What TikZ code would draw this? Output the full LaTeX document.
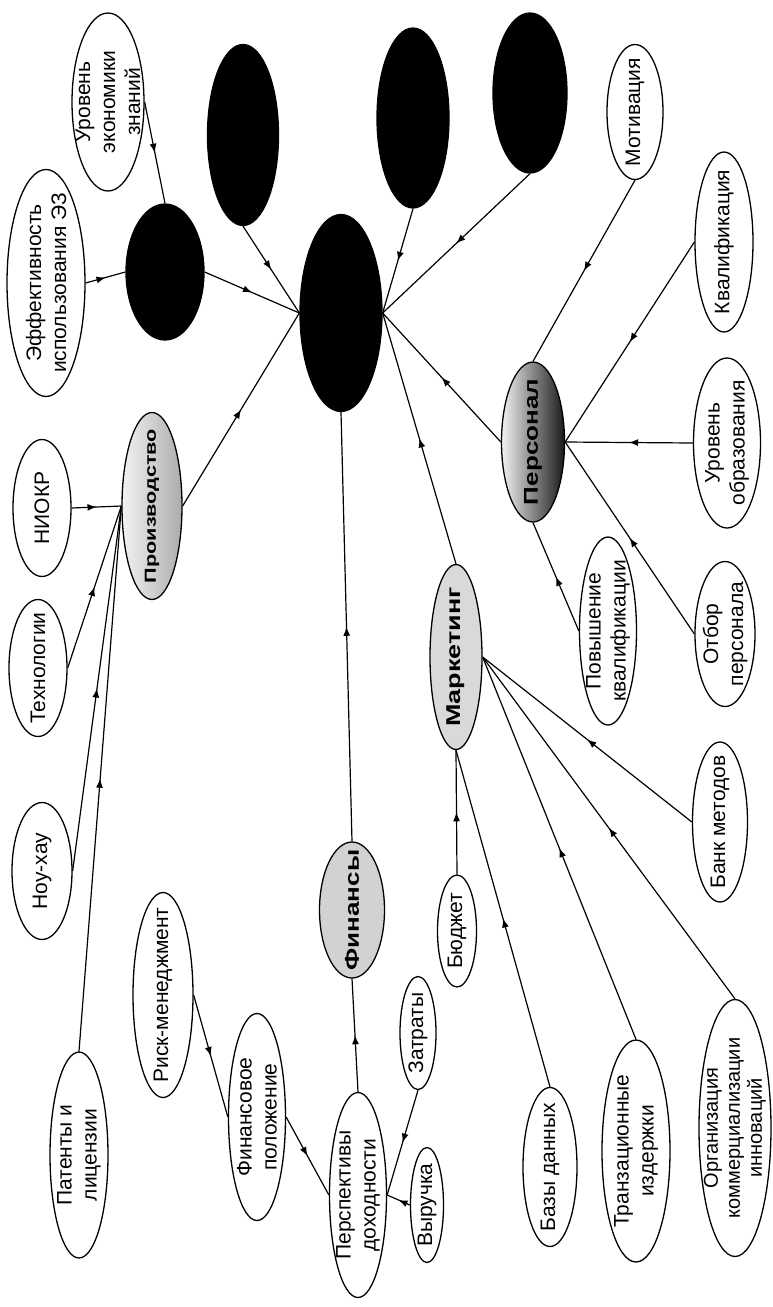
\documentclass[tikz,border=0pt]{standalone}
\usepackage{fontspec}
\setmainfont{Liberation Sans}
\usetikzlibrary{shapes.geometric, arrows.meta, decorations.markings}
\newcommand{\wtext}[2][1.3]{\scalebox{#1}[1]{#2}}

\begin{document}
\begin{tikzpicture}[
    x=1pt, y=-1pt,
    bub/.style 2 args={ellipse, draw, line width=1.3pt, fill=white,
      minimum width=#1pt, minimum height=#2pt, inner sep=0pt},
    txt/.style={rotate=90, align=center, inner sep=0pt,
      font=\fontsize{21}{25}\selectfont},
    head/.style={rotate=90, inner sep=0pt,
      font=\bfseries\fontsize{20}{24}\selectfont},
    blob/.style={fill=black},
    link/.style={line width=1.2pt, postaction={decorate},
      decoration={markings, mark=at position #1 with {\arrow{Latex[length=9pt,width=7pt]}}}},
    link/.default=0.5,
  ]
    \useasboundingbox (0,0) rectangle (772,1307);

    % centre and unlabelled black blocks
    \node[bub={82}{197}, blob] (hub) at (341,313) {};
    \node[bub={78}{136}, blob] (bk1) at (165,272) {};
    \node[bub={71}{181}, blob] (bk2) at (243,135) {};
    \node[bub={72}{180}, blob] (bk3) at (413,118) {};
    \node[bub={74}{160}, blob] (bk4) at (530,93) {};

    % knowledge economy
    \node[bub={72}{178}, label={[txt]center:Уровень\\экономики\\знаний}] (uez) at (108,102) {};
    \node[bub={78}{227}, label={[txt]center:Эффективность\\использования ЭЗ}] (eff) at (46,283) {};

    % staff
    \node[bub={63}{160}, left color=gray!10, middle color=gray!45, right color=black!90,
      label={[head]center:{\wtext{Персонал}}}] (pers) at (533,442) {};
    \node[bub={56}{135}, label={[txt]center:Мотивация}] (motiv) at (635,112) {};
    \node[bub={58}{180}, label={[txt]center:Квалификация}] (kval) at (724,242) {};
    \node[bub={67}{170}, label={[txt]center:Уровень\\образования}] (obraz) at (727,443) {};
    \node[bub={57}{188}, label={[txt]center:Повышение\\квалификации}] (povysh) at (608,631) {};
    \node[bub={60}{145}, label={[txt]center:Отбор\\персонала}] (otbor) at (725,634) {};

    % marketing
    \node[bub={52}{185}, fill=gray!30,
      label={[head]center:{\wtext[1.35]{Маркетинг}}}] (market) at (456,657) {};
    \node[bub={55}{160}, label={[txt]center:Банк методов}] (bank) at (720,822) {};
    \node[bub={39}{112}, label={[txt]center:Бюджет}] (budg) at (457,931) {};
    \node[bub={54}{159}, label={[txt]center:Базы данных}] (bases) at (550,1167) {};
    \node[bub={68}{222}, label={[txt]center:Транзационные\\издержки}] (trans) at (636,1151) {};
    \node[bub={72}{257}, label={[txt, font=\fontsize{20}{22}\selectfont]center:Организация\\коммерциализации\\инноваций}] (org) at (735,1128) {};

    % production
    \node[bub={60}{187}, left color=gray!10, right color=gray!65,
      label={[head, font=\bfseries\fontsize{16}{19}\selectfont]center:{\wtext[1.35]{Производство}}}] (prod) at (152,506) {};
    \node[bub={58}{137}, label={[txt]center:НИОКР}] (niokr) at (42,508) {};
    \node[bub={58}{137}, label={[txt]center:Технологии}] (tech) at (38,668) {};
    \node[bub={60}{137}, label={[txt]center:Ноу-хау}] (know) at (42,871) {};
    \node[bub={58}{206}, label={[txt]center:Патенты и\\лицензии}] (patent) at (79,1155) {};

    % finance
    \node[bub={65}{136}, fill=gray!35,
      label={[head]center:{\wtext{Финансы}}}] (fin) at (352,910) {};
    \node[bub={57}{205}, label={[txt]center:Перспективы\\доходности}] (persp) at (358,1195) {};
    \node[bub={57}{207}, label={[txt]center:Финансовое\\положение}] (finpol) at (257,1117) {};
    \node[bub={60}{205}, label={[txt]center:Риск-менеджмент}] (risk) at (163,995) {};
    \node[bub={36}{113}, label={[txt]center:Затраты}] (zatr) at (418,1033) {};
    \node[bub={33}{115}, label={[txt]center:Выручка}] (vyr) at (427,1205) {};

    % connectors
    \foreach \a/\b in {uez.east/bk1.north, eff.east/bk1.west,
        bk1.east/hub.west, bk2.south/hub.west, prod.east/hub.west,
        bk3.south/hub.east, bk4.south/hub.east, market.north/hub.east,
        pers.west/hub.east, fin.north/hub.south}
      \draw[link] (\a) -- (\b);
    \foreach \a/\b in {motiv.south/pers.north, kval.west/pers.east,
        obraz.west/pers.east, povysh.west/pers.south, otbor.west/pers.east}
      \draw[link] (\a) -- (\b);
    \foreach \a/\b in {bank.west/market.east, trans.north/market.east,
        org.north/market.east, bases.north/market.south, budg.north/market.south}
      \draw[link] (\a) -- (\b);
    \foreach \a/\b in {niokr.east/prod.west, tech.east/prod.west,
        know.east/prod.west, patent.north/prod.west}
      \draw[link] (\a) -- (\b);
    \foreach \a/\b in {persp.north/fin.south, finpol.east/persp.west,
        risk.east/finpol.west, zatr.south/persp.east, vyr.west/persp.east}
      \draw[link] (\a) -- (\b);
  \end{tikzpicture}
\end{document}
